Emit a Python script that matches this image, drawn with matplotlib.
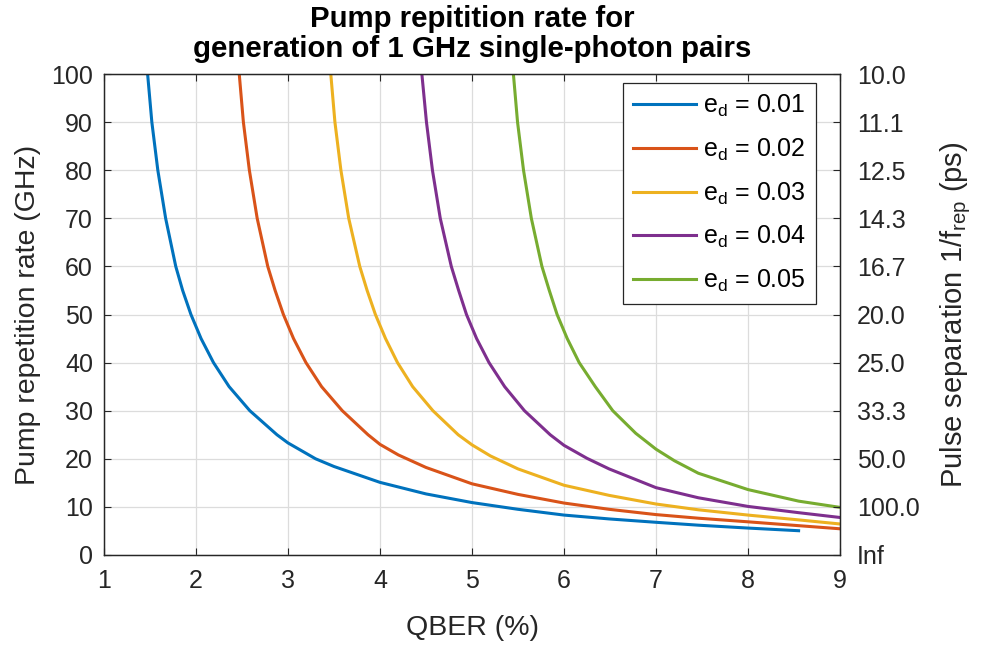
import matplotlib
matplotlib.use("Agg")
import matplotlib.pyplot as plt

plt.rcParams['font.family'] = ['Liberation Sans', 'DejaVu Sans']
plt.rcParams['mathtext.fontset'] = 'custom'
plt.rcParams['mathtext.rm'] = 'Liberation Sans'
plt.rcParams['mathtext.it'] = 'Liberation Sans'

# ---- data (QBER in %, pump rate in GHz) ----
q_001 = [1.474, 1.52, 1.585, 1.67, 1.78, 1.855, 1.945, 2.055, 2.19, 2.36, 2.585, 2.88, 3.0, 3.3,
         3.5, 4.0, 4.5, 5.0, 5.5, 6.0, 6.49, 7.0, 7.46, 8.0, 8.55]
r_001 = [100, 90, 80, 70, 60, 55, 50, 45, 40, 35, 30, 25, 23.3, 20,
         18.4, 15.1, 12.7, 10.9, 9.5, 8.3, 7.5, 6.8, 6.2, 5.6, 5.05]

q_002 = [2.47, 2.515, 2.58, 2.665, 2.78, 2.86, 2.95, 3.06, 3.195, 3.365, 3.59, 3.87, 4.0, 4.2,
         4.5, 5.0, 5.5, 6.0, 6.49, 7.0, 7.46, 8.0, 8.55, 9.0]
r_002 = [100, 90, 80, 70, 60, 55, 50, 45, 40, 35, 30, 25, 23.0, 20.8,
         18.2, 14.8, 12.6, 10.8, 9.5, 8.4, 7.65, 6.9, 6.1, 5.45]

q_003 = [3.465, 3.51, 3.575, 3.66, 3.78, 3.86, 3.95, 4.06, 4.19, 4.355, 4.575, 4.85, 5.0, 5.2,
         5.5, 6.0, 6.49, 7.0, 7.46, 8.0, 8.55, 9.0]
r_003 = [100, 90, 80, 70, 60, 55, 50, 45, 40, 35, 30, 25, 22.9, 20.6,
         17.9, 14.5, 12.4, 10.6, 9.4, 8.3, 7.3, 6.45]

q_004 = [4.455, 4.505, 4.57, 4.655, 4.775, 4.855, 4.94, 5.05, 5.185, 5.355, 5.57, 5.85, 6.0, 6.25,
         6.49, 7.0, 7.46, 8.0, 8.55, 9.0]
r_004 = [100, 90, 80, 70, 60, 55, 50, 45, 40, 35, 30, 25, 22.8, 20.1,
         17.9, 14.0, 11.9, 10.1, 8.8, 7.8]

q_005 = [5.45, 5.495, 5.56, 5.645, 5.76, 5.84, 5.925, 6.035, 6.165, 6.34, 6.53, 6.78, 7.0, 7.2,
         7.46, 8.0, 8.55, 9.0]
r_005 = [100, 90, 80, 70, 60, 55, 50, 45, 40, 35, 30, 25.3, 22.0, 19.6,
         17.0, 13.6, 11.2, 9.9]

series_q = [q_001, q_002, q_003, q_004, q_005]
series_r = [r_001, r_002, r_003, r_004, r_005]
labels = [r'$\mathrm{e_d}$ = 0.01', r'$\mathrm{e_d}$ = 0.02', r'$\mathrm{e_d}$ = 0.03',
          r'$\mathrm{e_d}$ = 0.04', r'$\mathrm{e_d}$ = 0.05']
colors = ['#0072BD', '#D95319', '#EDB120', '#7E2F8E', '#77AC30']

x_ticks = [1, 2, 3, 4, 5, 6, 7, 8, 9]
y_ticks = [0, 10, 20, 30, 40, 50, 60, 70, 80, 90, 100]
right_labels = ['Inf', '100.0', '50.0', '33.3', '25.0', '20.0', '16.7', '14.3', '12.5', '11.1', '10.0']

axis_col = '#262626'
tick_fs = 18
label_fs = 20.5

fig = plt.figure(figsize=(9.82, 6.47), dpi=100)
ax = fig.add_axes([104/982, 1-555/647, (840-104)/982, (555-74)/647])

for q, r, lab, c in zip(series_q, series_r, labels, colors):
    ax.plot(q, r, color=c, lw=2.2, label=lab, solid_joinstyle='round')

ax.set_xlim(1, 9)
ax.set_ylim(0, 100)
ax.set_xticks(x_ticks)
ax.set_yticks(y_ticks)
ax.grid(True, color='#dcdcdc', lw=0.9)
ax.set_axisbelow(True)
ax.tick_params(direction='in', length=5, width=0.8, colors=axis_col, labelsize=tick_fs,
               top=True, labelcolor=axis_col)
ax.tick_params(axis='x', pad=10)
ax.tick_params(axis='y', pad=8)
for s in ax.spines.values():
    s.set_color(axis_col)
    s.set_linewidth(0.9)

ax.set_xlabel('QBER (%)', fontsize=label_fs, color=axis_col, labelpad=16)
ax.set_ylabel('Pump repetition rate (GHz)', fontsize=label_fs, color=axis_col, labelpad=7)
ax.set_title('Pump repitition rate for\ngeneration of 1 GHz single-photon pairs',
             fontsize=21.2, fontweight='bold', color='black', pad=12, linespacing=1.12)

ax2 = ax.twinx()
ax2.set_ylim(0, 100)
ax2.set_yticks(y_ticks)
ax2.set_yticklabels(right_labels)
ax2.tick_params(direction='in', length=5, width=0.8, colors=axis_col, labelsize=tick_fs, pad=12)
for s in ax2.spines.values():
    s.set_color(axis_col)
    s.set_linewidth(0.9)
ax2.set_ylabel(r'Pulse separation 1/$\mathrm{f_{rep}}$ (ps)', fontsize=21, color=axis_col,
               labelpad=14)

leg = ax.legend(loc='upper right', bbox_to_anchor=(0.9675, 0.981), fontsize=tick_fs, frameon=True,
                fancybox=False, framealpha=1, edgecolor=axis_col, handlelength=2.5,
                handletextpad=0.3, borderpad=0.4, labelspacing=0.7, borderaxespad=0)
leg.get_frame().set_linewidth(0.9)

fig.savefig('out.png', dpi=100)
